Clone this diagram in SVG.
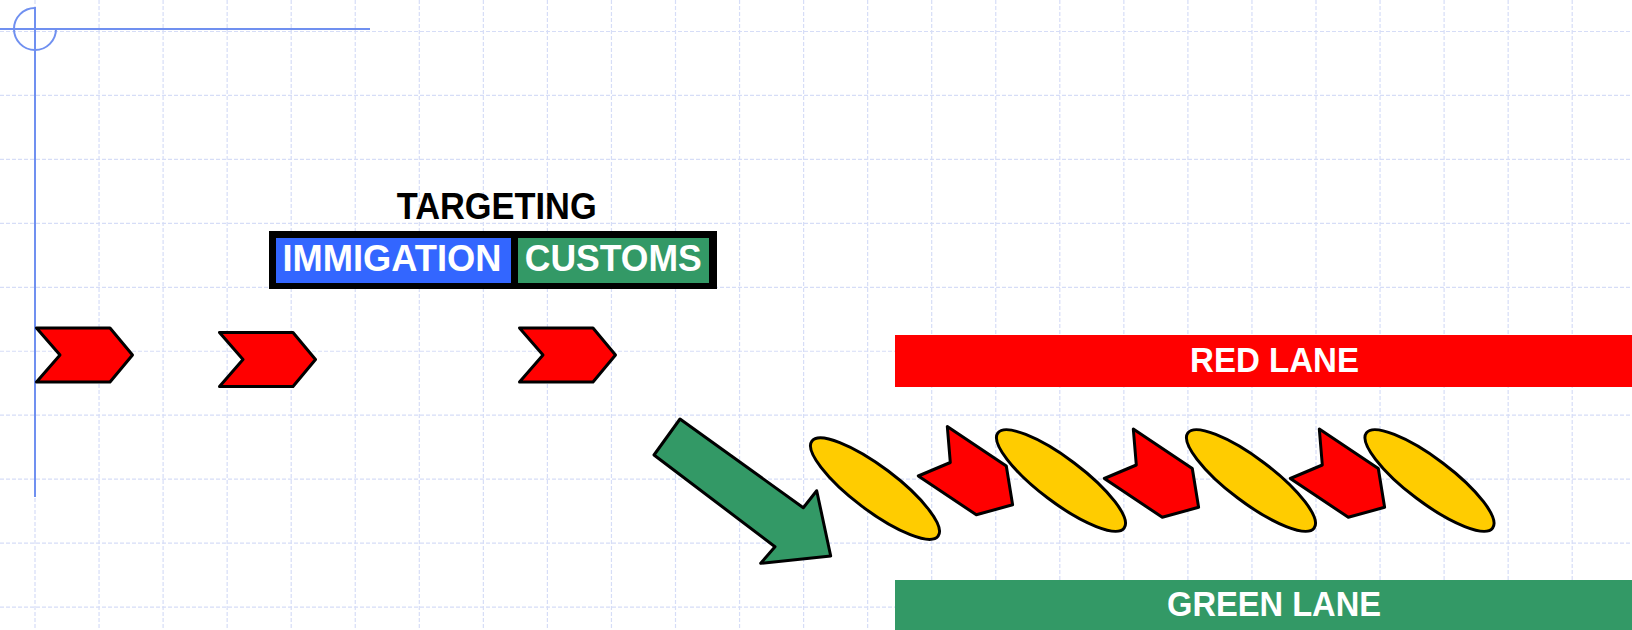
<svg xmlns="http://www.w3.org/2000/svg" width="1632" height="630" viewBox="0 0 1632 630">
<style>
.grid line{stroke:#d6ddf7;stroke-width:1.2;stroke-dasharray:4 2}
.axis{stroke:#7090f0;stroke-width:2;fill:none}
.shape{stroke:#000;stroke-width:3;stroke-linejoin:round}
.red{fill:#ff0000}
.yel{fill:#ffcc00}
.grn{fill:#339966}
.lbl{font-family:"Liberation Sans",Arial,sans-serif;font-weight:bold;fill:#fff;text-anchor:middle}
</style>
<defs>
<polygon id="chev" points="0,0 73.5,0 96,27 73.5,54 0,54 23.5,27"/>
<polygon id="pent" points="0,0 3,36 -29,49.5 29,88.3 65.3,78.3 59,39.5"/>
<ellipse id="ell" cx="0" cy="0" rx="79" ry="22"/>
</defs>
<rect width="1632" height="630" fill="#fff"/>
<g class="grid" id="grid">
<line x1="35" y1="0" x2="35" y2="630"/><line x1="99.05" y1="0" x2="99.05" y2="630"/><line x1="163.1" y1="0" x2="163.1" y2="630"/><line x1="227.15" y1="0" x2="227.15" y2="630"/><line x1="291.2" y1="0" x2="291.2" y2="630"/><line x1="355.25" y1="0" x2="355.25" y2="630"/><line x1="419.3" y1="0" x2="419.3" y2="630"/><line x1="483.35" y1="0" x2="483.35" y2="630"/><line x1="547.4" y1="0" x2="547.4" y2="630"/><line x1="611.45" y1="0" x2="611.45" y2="630"/><line x1="675.5" y1="0" x2="675.5" y2="630"/><line x1="739.55" y1="0" x2="739.55" y2="630"/><line x1="803.6" y1="0" x2="803.6" y2="630"/><line x1="867.65" y1="0" x2="867.65" y2="630"/><line x1="931.7" y1="0" x2="931.7" y2="630"/><line x1="995.75" y1="0" x2="995.75" y2="630"/><line x1="1059.8" y1="0" x2="1059.8" y2="630"/><line x1="1123.85" y1="0" x2="1123.85" y2="630"/><line x1="1187.9" y1="0" x2="1187.9" y2="630"/><line x1="1251.95" y1="0" x2="1251.95" y2="630"/><line x1="1316" y1="0" x2="1316" y2="630"/><line x1="1380.05" y1="0" x2="1380.05" y2="630"/><line x1="1444.1" y1="0" x2="1444.1" y2="630"/><line x1="1508.15" y1="0" x2="1508.15" y2="630"/><line x1="1572.2" y1="0" x2="1572.2" y2="630"/>
<line x1="0" y1="31.5" x2="1632" y2="31.5"/><line x1="0" y1="95.45" x2="1632" y2="95.45"/><line x1="0" y1="159.4" x2="1632" y2="159.4"/><line x1="0" y1="223.35" x2="1632" y2="223.35"/><line x1="0" y1="287.3" x2="1632" y2="287.3"/><line x1="0" y1="351.25" x2="1632" y2="351.25"/><line x1="0" y1="415.2" x2="1632" y2="415.2"/><line x1="0" y1="479.15" x2="1632" y2="479.15"/><line x1="0" y1="543.1" x2="1632" y2="543.1"/><line x1="0" y1="607.05" x2="1632" y2="607.05"/>
</g>
<g id="axes">
<line class="axis" x1="35" y1="7" x2="35" y2="497"/>
<line class="axis" x1="0" y1="29" x2="370" y2="29"/>
<path class="axis" d="M35 8 A21 21 0 1 0 56 29"/>
</g>
<g id="targeting">
<text x="496.7" y="219" font-family="Liberation Sans,Arial,sans-serif" font-weight="bold" font-size="36" text-anchor="middle" textLength="200" lengthAdjust="spacingAndGlyphs" fill="#000">TARGETING</text>
</g>
<g id="targeting-box">
<rect x="269" y="231" width="448" height="58" fill="#000"/>
</g>
<g id="immigration">
<rect x="276" y="238" width="235" height="45" fill="#3366ff"/>
<text class="lbl" x="392" y="271" font-size="36" textLength="219" lengthAdjust="spacingAndGlyphs">IMMIGATION</text>
</g>
<g id="customs">
<rect x="518" y="238" width="191" height="45" class="grn"/>
<text class="lbl" x="613.3" y="271" font-size="36" textLength="177" lengthAdjust="spacingAndGlyphs">CUSTOMS</text>
</g>
<g id="chevron1"><use href="#chev" class="shape red" x="36.5" y="328"/></g>
<g id="chevron2"><use href="#chev" class="shape red" x="219.5" y="332.5"/></g>
<g id="chevron3"><use href="#chev" class="shape red" x="519.5" y="328"/></g>
<g id="red-lane">
<rect x="895" y="335" width="737" height="52" class="red"/>
<text class="lbl" x="1274.5" y="371.6" font-size="35" textLength="169" lengthAdjust="spacingAndGlyphs">RED LANE</text>
</g>
<g id="green-lane">
<rect x="895" y="580" width="737" height="50" class="grn"/>
<text class="lbl" x="1274" y="616" font-size="35" textLength="214" lengthAdjust="spacingAndGlyphs">GREEN LANE</text>
</g>
<g id="connectors">
<polygon class="shape grn" points="680,419 654,455 775,546.7 760.7,563.3 830.7,556 816.7,490.7 803.3,507.7"/>
</g>
<g id="ellipse1"><use href="#ell" class="shape yel" transform="translate(875,488.6) rotate(37)"/></g>
<g id="arrow1"><use href="#pent" class="shape red" x="947.3" y="426.5"/></g>
<g id="ellipse2"><use href="#ell" class="shape yel" transform="translate(1061,480.5) rotate(37)"/></g>
<g id="arrow2"><use href="#pent" class="shape red" x="1133.3" y="429"/></g>
<g id="ellipse3"><use href="#ell" class="shape yel" transform="translate(1251,480.5) rotate(37)"/></g>
<g id="arrow3"><use href="#pent" class="shape red" x="1319.3" y="429"/></g>
<g id="ellipse4"><use href="#ell" class="shape yel" transform="translate(1429.5,480.5) rotate(37)"/></g>
</svg>
